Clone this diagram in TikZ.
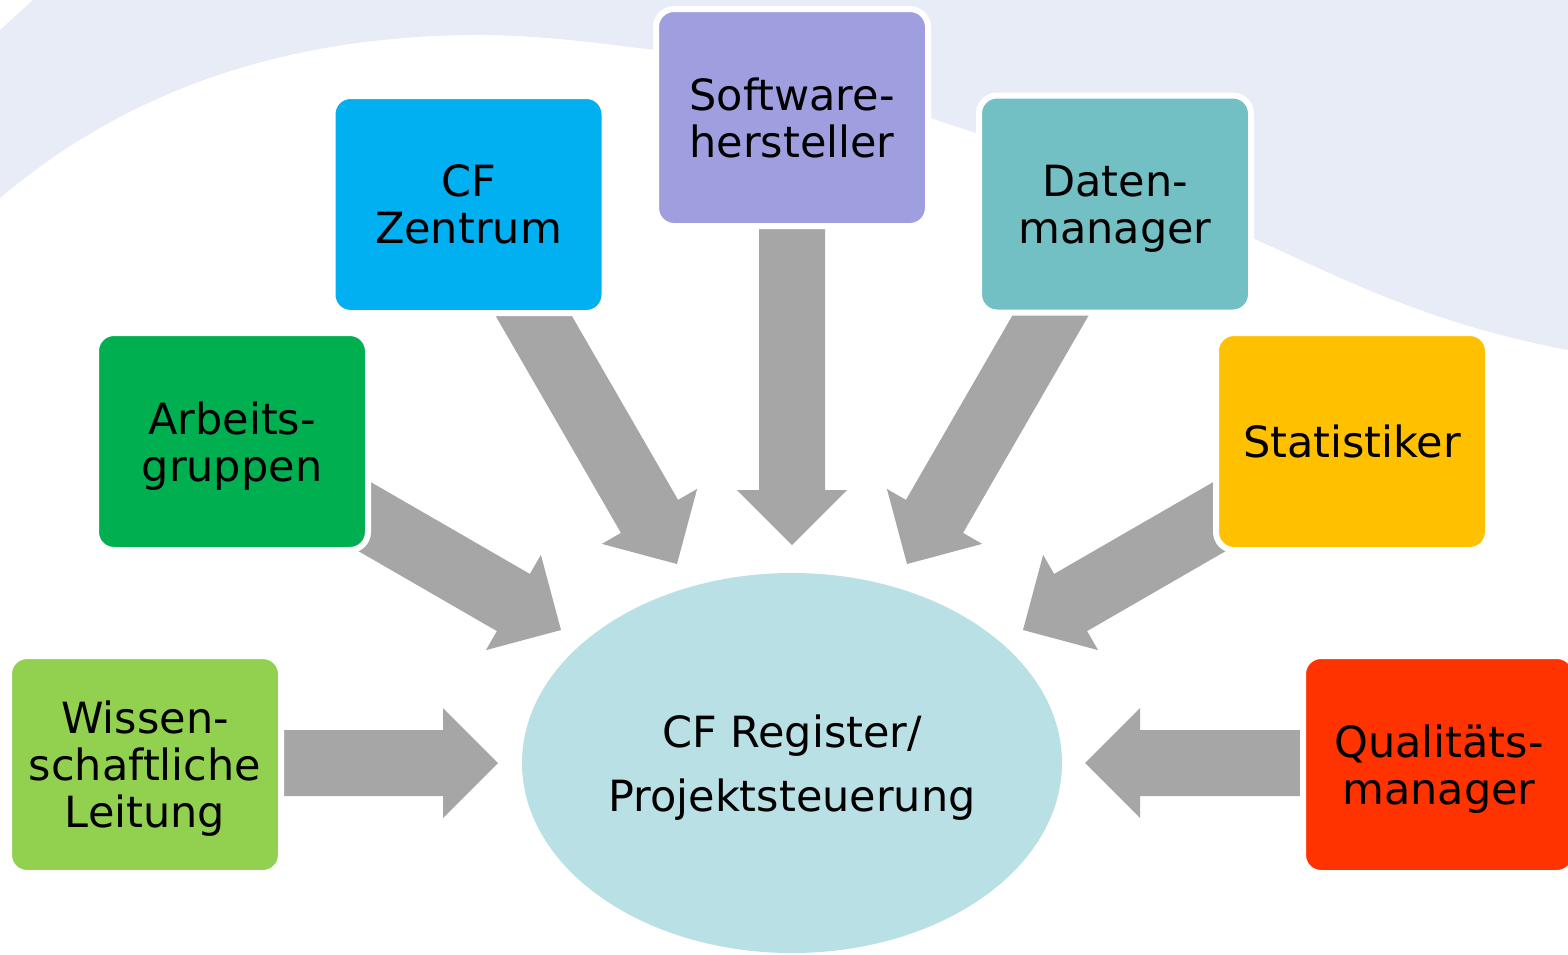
\documentclass[tikz,border=0pt]{standalone}
\usepackage{fontspec}
\setmainfont{DejaVu Sans}
\usetikzlibrary{shapes.geometric,calc}
\definecolor{wave}{HTML}{E8ECF7}
\definecolor{agray}{HTML}{A6A6A6}
\definecolor{ell}{HTML}{B9E0E4}
\definecolor{cwis}{HTML}{92D050}
\definecolor{carb}{HTML}{00B050}
\definecolor{ccfz}{HTML}{00B0F0}
\definecolor{csw}{HTML}{9F9EDE}
\definecolor{cdat}{HTML}{72BFC4}
\definecolor{csta}{HTML}{FFC000}
\definecolor{cqua}{HTML}{FF3300}
\tikzset{
  box/.style={draw=white, line width=6pt, rounded corners=18pt, minimum width=272pt, minimum height=217pt,
    align=center, inner sep=0pt, text depth=0pt, font=\fontsize{43}{47}\selectfont},
  blockarr/.style={fill=agray, draw=none},
}
\newcommand\blockarrow[4]{% tip coordinate name, angle, length, shaft half width
  \begin{scope}[shift={(#1)}, rotate=#2]
    \path[blockarr] (0,0) -- (-55,-55) -- (-55,-#4) -- (-#3,-#4) -- (-#3,#4) -- (-55,#4) -- (-55,55) -- cycle;
  \end{scope}}
\begin{document}
\begin{tikzpicture}[x=1pt,y=-1pt]
\useasboundingbox (0,0) rectangle (1568,954);
\clip (0,0) rectangle (1568,954);
% background wave
\fill[wave] (33,0) -- (1568,0) -- (1568,350)
  .. controls (1420,322) and (1330,272) .. (1250,237)
  .. controls (1140,190) and (1030,150) .. (930,118)
  -- (655,50)
  .. controls (590,42) and (530,34) .. (465,35)
  .. controls (300,38) and (140,80) .. (0,198) -- (0,30) -- cycle;
% central ellipse
\node[ellipse, fill=ell, minimum width=540pt, minimum height=380pt, inner sep=0pt, align=center,
  text depth=0pt, font=\fontsize{43}{64}\selectfont] (reg) at (792,763) {CF Register/\\Projektsteuerung};
% tips of the arrows
\coordinate (twis) at ($(reg.center)+(-294,0)$);
\coordinate (tqua) at ($(reg.center)+(293,0)$);
\coordinate (tsw)  at ($(reg.center)+(0,-218)$);
\coordinate (tcfz) at ($(reg.center)+(-115,-199)$);
\coordinate (tdat) at ($(reg.center)+(115,-199)$);
\coordinate (tarb) at ($(reg.center)+(-231,-133)$);
\coordinate (tsta) at ($(reg.center)+(231,-133)$);
% arrows (tails hidden under the boxes)
\blockarrow{twis}{0}{300}{33}
\blockarrow{tqua}{180}{300}{33}
\blockarrow{tsw}{-90}{360}{33}
\blockarrow{tcfz}{-60}{340}{33}
\blockarrow{tdat}{-120}{340}{33}
\blockarrow{tarb}{-30}{340}{33}
\blockarrow{tsta}{-150}{340}{33}
% boxes
\node[box, fill=cwis] (wis) at (145,764.5) {Wissen-\\schaftliche\\Leitung};
\node[box, fill=carb] (arb) at (232,441.5) {Arbeits-\\gruppen};
\node[box, fill=ccfz] (cfz) at (468.5,204.5) {CF\\Zentrum};
\node[box, fill=csw] (sw) at (792,117.5) {Software-\\hersteller};
\node[box, fill=cdat] (dat) at (1115,204) {Daten-\\manager};
\node[box, fill=csta] (sta) at (1352,441.5) {Statistiker};
\node[box, fill=cqua] (qua) at (1439,764.5) {Qualitäts-\\manager};
\end{tikzpicture}
\end{document}
